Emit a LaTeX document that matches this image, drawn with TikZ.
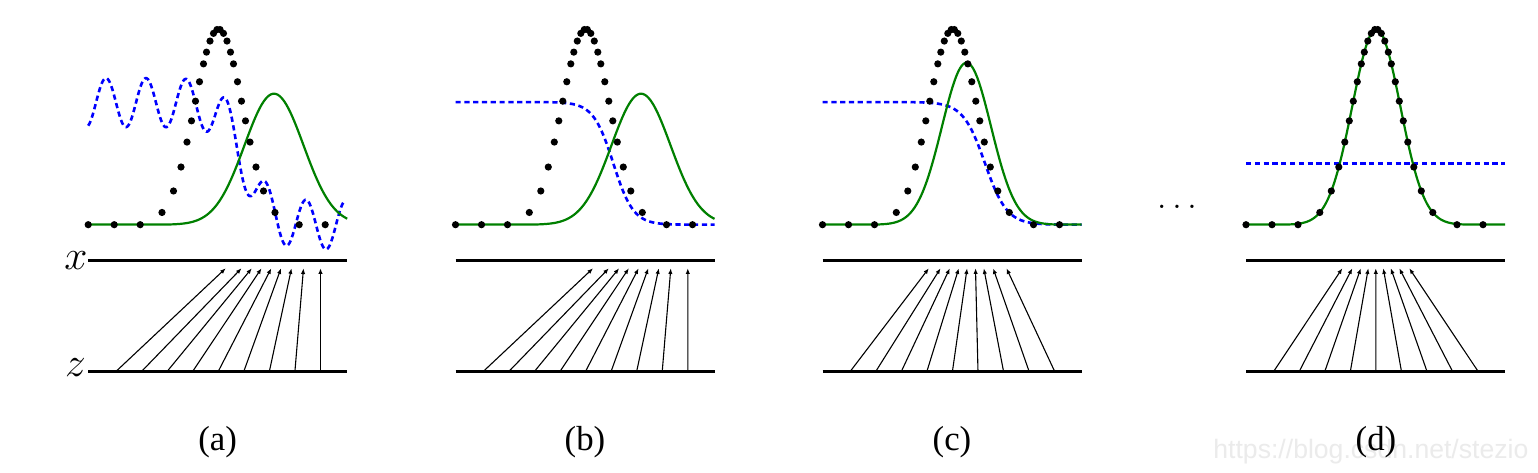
\documentclass[tikz,border=0pt]{standalone}
\usepackage{fontspec}
\newfontfamily\capfont{Liberation Serif}
\newfontfamily\wmfont{Liberation Sans}
\usetikzlibrary{arrows.meta}
\definecolor{dgreen}{RGB}{0,128,0}
\tikzset{
  declare function={
    gauss(\pa,\pc,\ps,\ph)=224.7-\ph*exp(0-min(7,0.5*((\pa-\pc)/\ps)^2));
    logi(\pq)=1/(1+exp(0-max(-7,min(7,\pq))));
  },
  axisline/.style={line width=1.4pt},
  gcurve/.style={dgreen, line width=1.1pt},
  bcurve/.style={blue, line width=1.3pt, dash pattern=on 2.6pt off 1.8pt},
  mapar/.style={line width=0.55pt, -{Latex[length=2.8pt,width=2.2pt]}},
  caplabel/.style={font=\capfont\fontsize{17.4}{17.4}\selectfont, anchor=base, inner sep=0pt},
  axlabel/.style={font=\fontsize{21}{21}\selectfont, inner sep=0pt},
}
\newcommand\datadots[1]{%
  \foreach \o in {-56.5,-45,-37.5,-31.5,-27,-23,-19,-15,-12,-8.5,-5,-1.5,1.5,5,8.5,12,15,19,23,27,31.5,37.5,45,56.5}{%
    \pgfmathsetmacro\xx{#1+\o}%
    \pgfmathsetmacro\yy{gauss(\xx,#1,24,195.5)}%
    \fill (\xx,\yy) circle[radius=1.8pt];}%
  \foreach \o in {-130.3,-104.3,-78.3,80.7,106.7}{%
    \pgfmathsetmacro\xx{#1+\o}%
    \fill (\xx,224.7) circle[radius=1.8pt];}%
}
\newcommand\mapping[3]{% #1 name, #2 left, #3 list of end offsets
  \foreach \e [count=\i from 0] in {#3}{%
    \coordinate (#1-z\i) at ({#2+27.5+25.6*\i},371.7);
    \coordinate (#1-x\i) at ({#2+\e},268.3);
    \draw[mapar] (#1-z\i) -- (#1-x\i);}%
}
\begin{document}
\begin{tikzpicture}[x=0.5pt,y=-0.5pt]
\fill[white] (0,0) rectangle (1538,472);
\useasboundingbox (0,0) rectangle (1538,472);

% axis labels
\node[axlabel] (lx) at (76,261) {$x$};
\node[axlabel] (lz) at (75.5,368) {$z$};

% ---------- panel (a) ----------
\draw[axisline] (88.2,260.7) -- (347.2,260.7);
\draw[axisline] (88.2,371.7) -- (347.2,371.7);
\mapping{a}{88.2}{137.5,153.3,163.6,173.3,183.1,192.8,203.3,215.3,232.3}
\draw[bcurve] plot[domain=88.2:344,samples=300] (\x,{102.5+122.5*logi((\x-245)/12)-24.5*cos(9*(\x-106))});
\draw[gcurve] plot[domain=88.2:347.2,samples=150] (\x,{gauss(\x,274,29.5,131)});
\datadots{218.5}
\node[caplabel] (ca) at (217.7,450.5) {(a)};

% ---------- panel (b) ----------
\draw[axisline] (455.5,260.7) -- (714.5,260.7);
\draw[axisline] (455.5,371.7) -- (714.5,371.7);
\mapping{b}{455.5}{137.5,153.3,163.6,173.3,183.1,192.8,203.3,215.3,232.3}
\draw[bcurve] plot[domain=455.5:714.5,samples=150] (\x,{102+122.7*logi((\x-613.3)/10)});
\draw[gcurve] plot[domain=455.5:714.5,samples=150] (\x,{gauss(\x,641,29.5,131)});
\datadots{585.8}
\node[caplabel] (cb) at (585,450.5) {(b)};

% ---------- panel (c) ----------
\draw[axisline] (822.5,260.7) -- (1081.5,260.7);
\draw[axisline] (822.5,371.7) -- (1081.5,371.7);
\mapping{c}{822.5}{106.3,118,127.3,136.3,144.6,153,161.3,170.6,184}
\draw[bcurve] plot[domain=822.5:1081.5,samples=150] (\x,{102+122.7*logi((\x-985)/11)});
\draw[gcurve] plot[domain=822.5:1081.5,samples=150] (\x,{gauss(\x,966.5,24.5,162)});
\datadots{952.8}
\node[caplabel] (cc) at (952,450.5) {(c)};

% ---------- dots between ----------
\node[font=\fontsize{17}{17}\selectfont, anchor=base, inner sep=0pt] (ell) at (1177,208.6) {$\ldots$};

% ---------- panel (d) ----------
\draw[axisline] (1246,260.7) -- (1505,260.7);
\draw[axisline] (1246,371.7) -- (1505,371.7);
\mapping{d}{1246}{96.3,106.3,114.8,122.3,129.8,137.3,144.8,153.3,163.3}
\draw[bcurve] (1246,163.3) -- (1505,163.3);
\draw[gcurve] plot[domain=1246:1505,samples=150] (\x,{gauss(\x,1376.3,24,195.5)});
\datadots{1376.3}

% watermark
\node[font=\wmfont\fontsize{13.3}{13.3}\selectfont, text=black!8, anchor=base west, inner sep=0pt] (wm) at (1213,458.3) {https://blog.csdn.net/stezio};
\node[caplabel] (cd) at (1376,450.5) {(d)};
\end{tikzpicture}
\end{document}
